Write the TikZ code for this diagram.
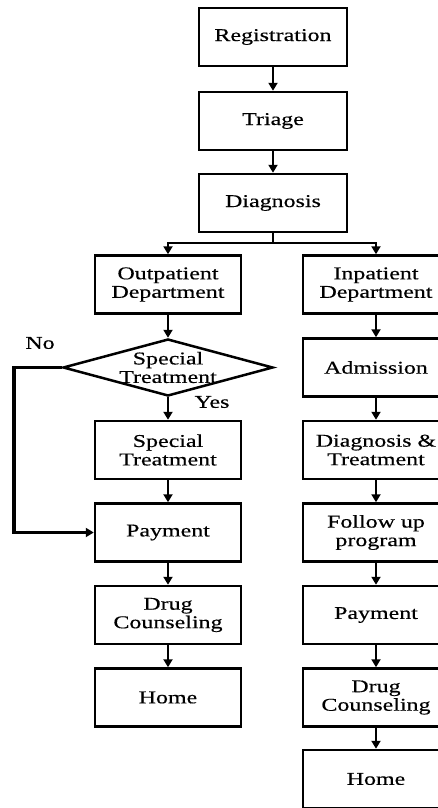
\documentclass[tikz,border=0pt]{standalone}
\usepackage{fontspec}
\setmainfont{Liberation Serif}[FakeStretch=1.33, FakeBold=0.4]
\usepackage{tikz}
\usetikzlibrary{arrows.meta, positioning, shapes.geometric}

\begin{document}
\begin{tikzpicture}[
    x=1pt, y=-1pt, >={Triangle[length=8pt, width=9pt]},
    font=\fontsize{18}{18.5}\selectfont,
    box/.style={draw, line width=2.5pt, minimum width=146pt, minimum height=58pt, inner sep=0pt, align=center},
    decision/.style={draw, diamond, line width=2.5pt, minimum width=210pt, minimum height=57pt, inner sep=0pt},
    flow/.style={->, line width=2.7pt},
  ]
  \useasboundingbox (0,0) rectangle (438,808);
  % x of the three columns
  \def\xM{273}\def\xL{168}\def\xR{376}
  % common trunk
  \node[box, minimum width=148pt] (reg) at (\xM,37) {Registration};
  \node[box, minimum width=148pt] (tri) at (\xM,121) {Triage};
  \node[box, minimum width=148pt] (diag) at (\xM,203) {Diagnosis};
  % outpatient branch
  \node[box] (outp) at (\xL,284.5) {Outpatient\\Department};
  \node[decision] (spec) at (\xL,367.5) {};
  \node[align=center, inner sep=0pt] (specT) at (spec.center) {Special\\Treatment};
  \node[box] (strt) at (\xL,450) {Special\\Treatment};
  \node[box] (payL) at (\xL,532.5) {Payment};
  \node[box] (drugL) at (\xL,615) {Drug\\Counseling};
  \node[box] (homeL) at (\xL,697.5) {Home};
  % inpatient branch
  \node[box] (inp) at (\xR,284.5) {Inpatient\\Department};
  \node[box] (adm) at (\xR,367.5) {Admission};
  \node[box] (dtr) at (\xR,450) {Diagnosis \&\\Treatment};
  \node[box] (fup) at (\xR,532.5) {Follow up\\program};
  \node[box] (payR) at (\xR,615) {Payment};
  \node[box] (drugR) at (\xR,697.5) {Drug\\Counseling};
  \node[box] (homeR) at (\xR,779) {Home};
  % labels of the decision
  \node (no) at (40,343) {No};
  \node (yes) at (212,402) {Yes};
  % connectors
  \draw[flow] (reg) -- (tri);
  \draw[flow] (tri) -- (diag);
  \coordinate (split) at (\xM,243);
  \draw[line width=2.7pt] (diag) -- (split);
  \draw[flow] (split) -| (outp);
  \draw[flow] (split) -| (inp);
  \draw[flow] (outp) -- (spec);
  \draw[flow] (spec) -- (strt);
  \draw[flow] (strt) -- (payL);
  \draw[flow] (payL) -- (drugL);
  \draw[flow] (drugL) -- (homeL);
  \coordinate (noC) at (14,367.5);
  \draw[flow, line width=3.3pt] (spec.west) -- (noC) |- (payL.west);
  \draw[flow] (inp) -- (adm);
  \draw[flow] (adm) -- (dtr);
  \draw[flow] (dtr) -- (fup);
  \draw[flow] (fup) -- (payR);
  \draw[flow] (payR) -- (drugR);
  \draw[flow] (drugR) -- (homeR);
\end{tikzpicture}
\end{document}
